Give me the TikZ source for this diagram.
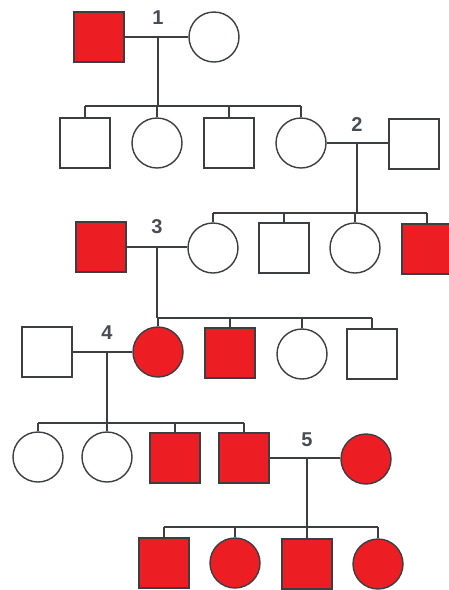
\documentclass[tikz,border=0pt]{standalone}
\usepackage{fontspec}
\setmainfont{Liberation Sans}
\usetikzlibrary{calc}
\definecolor{affected}{RGB}{236,30,36}
\definecolor{ink}{RGB}{60,62,66}
\definecolor{numink}{RGB}{72,76,84}
\begin{document}
\begin{tikzpicture}[x=1pt,y=-1pt,
  person/.style={draw=ink,line width=1.4pt,inner sep=0pt,minimum size=50pt,fill=white},
  male/.style={person,rectangle},
  female/.style={person,circle},
  ill/.style={fill=affected},
  numlab/.style={font=\fontsize{20}{20}\selectfont\bfseries,text=numink,inner sep=0pt},
  link/.style={draw=ink,line width=1.4pt}]
\useasboundingbox (0,0) rectangle (448,590);

% generation I
\node[male,ill] (a1) at (99,37) {};
\node[female]   (a2) at (214,37) {};
% generation II
\node[male]   (b1) at (85,143) {};
\node[female] (b2) at (157,143) {};
\node[male]   (b3) at (229,143) {};
\node[female] (b4) at (301,143) {};
\node[male]   (b5) at (414,144) {};
% generation III
\node[male,ill] (c1) at (101,247) {};
\node[female]   (c2) at (213,248) {};
\node[male]     (c3) at (284,248) {};
\node[female]   (c4) at (355,248) {};
\node[male,ill] (c5) at (427,249) {};
% generation IV
\node[male]       (d1) at (47,352) {};
\node[female,ill] (d2) at (158,352) {};
\node[male,ill]   (d3) at (230,353) {};
\node[female]     (d4) at (302,354) {};
\node[male]       (d5) at (372,354) {};
% generation V
\node[female]     (e1) at (38,457) {};
\node[female]     (e2) at (107,457) {};
\node[male,ill]   (e3) at (175,458) {};
\node[male,ill]   (e4) at (244,458) {};
\node[female,ill] (e5) at (366,459) {};
% generation VI
\node[male,ill]   (f1) at (164,563) {};
\node[female,ill] (f2) at (235,563) {};
\node[male,ill]   (f3) at (307,564) {};
\node[female,ill] (f4) at (378,564) {};

% mating points and sibship bars
\coordinate (m1) at (158,37);  \coordinate (s1) at (158,106);
\coordinate (m2) at (357,143); \coordinate (s2) at (357,213);
\coordinate (m3) at (157,247); \coordinate (s3) at (157,318);
\coordinate (m4) at (107,352); \coordinate (s4) at (107,423);
\coordinate (m5) at (307,458); \coordinate (s5) at (307,527);

% couple 1
\draw[link] (a1.east) -- (a2.west);
\draw[link] (m1) -- (s1);
\draw[link] (b1.north |- s1) -- (b4.north |- s1);
\foreach \k in {b1,b2,b3,b4} \draw[link] (\k.north |- s1) -- (\k.north);
% couple 2
\draw[link] (b4.east) -- (b5.west |- b4.east);
\draw[link] (m2) -- (s2);
\draw[link] (c2.north |- s2) -- (c5.north |- s2);
\foreach \k in {c2,c3,c4,c5} \draw[link] (\k.north |- s2) -- (\k.north);
% couple 3
\draw[link] (c1.east) -- (c2.west |- c1.east);
\draw[link] (m3) -- (s3);
\draw[link] (d2.north |- s3) -- (d5.north |- s3);
\foreach \k in {d2,d3,d4,d5} \draw[link] (\k.north |- s3) -- (\k.north);
% couple 4
\draw[link] (d1.east) -- (d2.west);
\draw[link] (m4) -- (s4);
\draw[link] (e1.north |- s4) -- (e4.north |- s4);
\foreach \k in {e1,e2,e3,e4} \draw[link] (\k.north |- s4) -- (\k.north);
% couple 5
\draw[link] (e4.east) -- (e5.west |- e4.east);
\draw[link] (m5) -- (s5);
\draw[link] (f1.north |- s5) -- (f4.north |- s5);
\foreach \k in {f1,f2,f3,f4} \draw[link] (\k.north |- s5) -- (\k.north);

% couple numbers
\node[numlab] (n1) at ($(m1)+(0,-19)$) {1};
\node[numlab] (n2) at ($(m2)+(0,-18)$) {2};
\node[numlab] (n3) at ($(m3)+(0,-20)$) {3};
\node[numlab] (n4) at ($(m4)+(0,-19)$) {4};
\node[numlab] (n5) at ($(m5)+(0,-18)$) {5};
\end{tikzpicture}
\end{document}
